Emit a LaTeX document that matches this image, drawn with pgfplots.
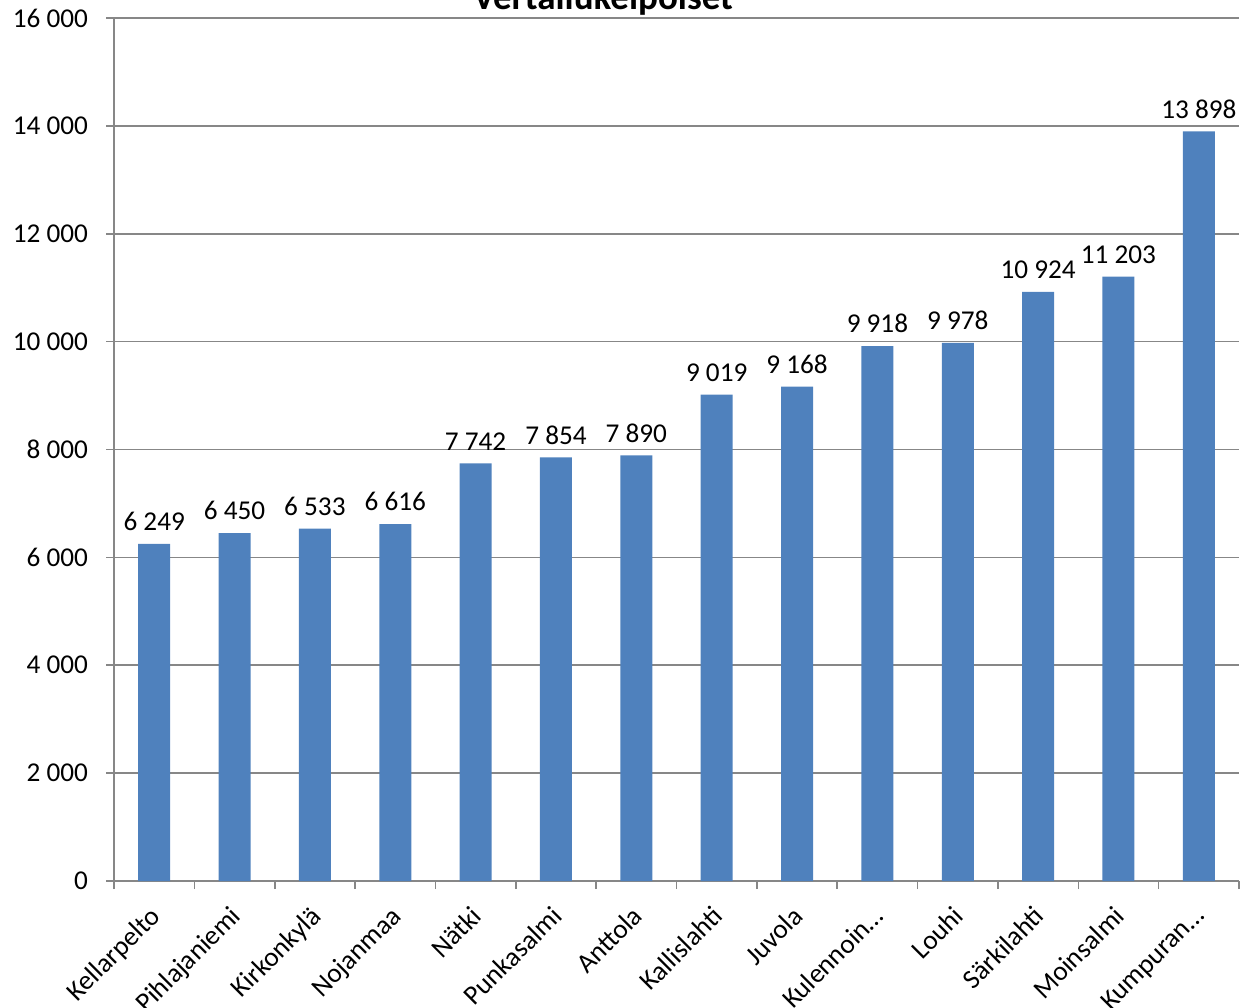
\documentclass[border=0pt]{standalone}
\usepackage{pgfplots}
\pgfplotsset{compat=1.18}
\usepackage{fontspec}
\setmainfont{Carlito}
\definecolor{barblue}{HTML}{4F81BD}
\definecolor{gridgray}{HTML}{878787}
\pgfplotsset{/pgf/number format/1000 sep={\ }, /pgf/number format/assume math mode=true}
\newcommand{\lbl}{\fontsize{13.6}{16}\selectfont}
\begin{document}
\begin{tikzpicture}
\begin{axis}[
    at={(57pt,63pt)}, anchor=south west,
    scale only axis, width=562.5pt, height=431.5pt,
    ybar, bar width=16pt,
    xmin=-0.5, xmax=13.5, ymin=0, ymax=16000,
    ytick={0,2000,...,16000},
    scaled y ticks=false,
    xtick={0,...,13},
    xticklabels={Kellarpelto, Pihlajaniemi, Kirkonkylä, Nojanmaa, Nätki, Punkasalmi, Anttola, Kallislahti, Juvola, Kulennoin…, Louhi, Särkilahti, Moinsalmi, Kumpuran…},
    minor xtick={-0.5,0.5,...,13.5},
    axis lines=left,
    axis line style={-, draw=gridgray, line width=0.8pt},
    tick align=outside,
    major tick length=4pt, minor tick length=4pt,
    major x tick style={draw=none},
    minor x tick style={draw=gridgray, line width=0.8pt},
    major y tick style={draw=gridgray, line width=0.8pt},
    ymajorgrids,
    major y grid style={draw=gridgray, line width=0.8pt},
    tick label style={font=\lbl, black},
    xticklabel style={rotate=45, anchor=north east, inner sep=0pt, xshift=-7.4pt, yshift=-3.3pt},
    yticklabel style={xshift=-5.5pt},
    nodes near coords,
    every node near coord/.append style={font=\lbl, black, yshift=3pt},
    every axis title shift=0pt,
    title={Vertailukelpoiset},
    title style={font=\fontsize{18.5}{22}\selectfont\bfseries, anchor=base, at={(axis description cs:0.4347,1.0093)}},
]
\addplot[fill=barblue, draw=none] coordinates {
    (0,6249) (1,6450) (2,6533) (3,6616) (4,7742) (5,7854) (6,7890)
    (7,9019) (8,9168) (9,9918) (10,9978) (11,10924) (12,11203) (13,13898)
};
\end{axis}
\pgfresetboundingbox
\useasboundingbox (0,0) rectangle (620.5pt,503.5pt);
\end{tikzpicture}
\end{document}
